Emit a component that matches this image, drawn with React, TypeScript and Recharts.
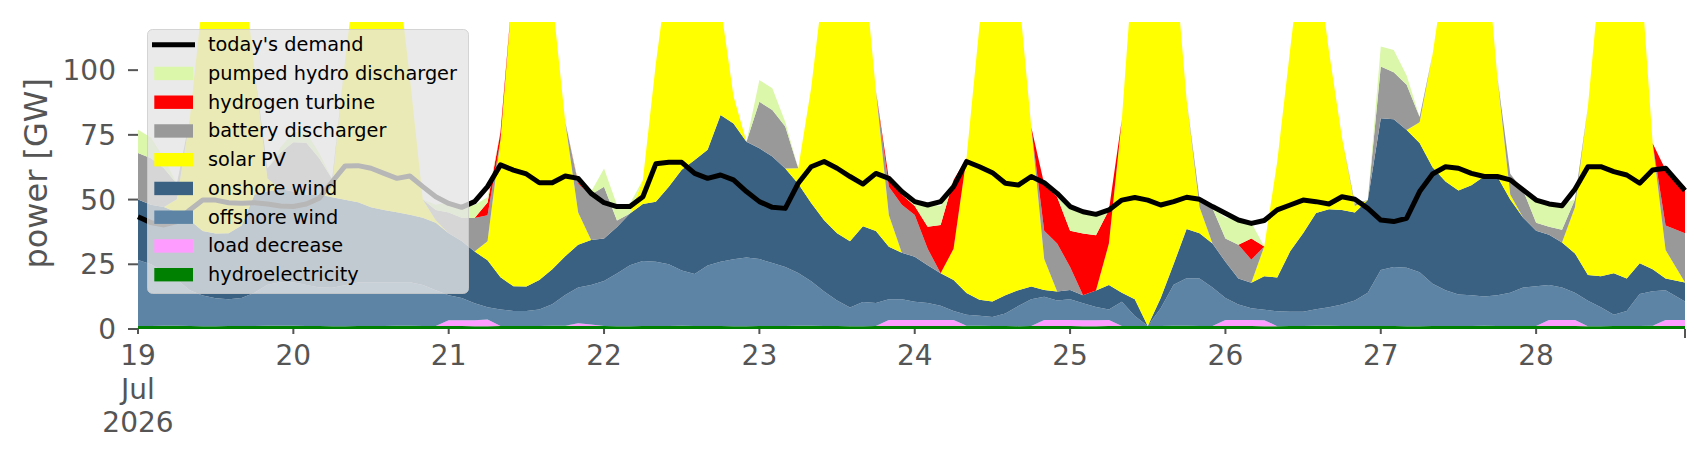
import React from 'react';
import { ComposedChart, Area, Line, XAxis, YAxis, Legend } from 'recharts';

// time axis: hours since 19 Jul 2026 00:00 (2-hourly samples, last one 28 Jul 23:00)
const hours: number[] = [];
for (let h = 0; h <= 236; h += 2) hours.push(h);
hours.push(239);

const dayTicks = [0, 24, 48, 72, 96, 120, 144, 168, 192, 216, 239];
const dayTickLabels: string[][] = [
  ['19', 'Jul', '2026'], ['20'], ['21'], ['22'], ['23'], ['24'], ['25'], ['26'], ['27'], ['28'], [],
];
const yTicks = [0, 25, 50, 75, 100];

const hydroelectricity = [
  1.2, 1.2, 1.3, 1.3, 1.2, 1.1, 1.1, 1.2, 1.2, 1.2, 1.3, 1.3,
  1.3, 1.2, 1.2, 1.1, 1.1, 1.2, 1.2, 1.2, 1.3, 1.3, 1.2, 1.2,
  1.2, 1.2, 1.1, 1.1, 1.2, 1.2, 1.2, 1.2, 1.3, 1.3, 1.2, 1.2,
  1.2, 1.1, 1.1, 1.2, 1.2, 1.2, 1.3, 1.2, 1.2, 1.2, 1.1, 1.1,
  1.2, 1.2, 1.2, 1.3, 1.3, 1.2, 1.2, 1.1, 1.1, 1.2, 1.2, 1.2,
  1.2, 1.2, 1.2, 1.2, 1.3, 1.3, 1.2, 1.2, 1.1, 1.2, 1.2, 1.2,
  1.2, 1.1, 1.1, 1.2, 1.2, 1.2, 1.2, 1.2, 1.3, 1.3, 1.2, 1.2,
  1.2, 1.2, 1.2, 1.1, 1.1, 1.2, 1.2, 1.3, 1.3, 1.2, 1.2, 1.2,
  1.2, 1.2, 1.1, 1.1, 1.2, 1.2, 1.2, 1.2, 1.3, 1.2, 1.2, 1.2,
  1.2, 1.2, 1.2, 1.2, 1.1, 1.1, 1.2, 1.2, 1.2, 1.3, 1.2, 1.2,
];
const loadDecrease = [
  0, 0, 0, 0, 0, 0, 0, 0, 0, 0, 0, 0,
  0, 0, 0, 0, 0, 0, 0, 0, 0, 0, 0, 0,
  2.2, 2.2, 2.3, 2.6, 0, 0, 0, 0, 0, 0, 1.0, 0.5,
  0, 0, 0, 0, 0, 0, 0, 0, 0, 0, 0, 0,
  0, 0, 0, 0, 0, 0, 0, 0, 0, 0, 2.3, 2.3,
  2.3, 2.3, 2.3, 2.3, 0, 0, 0, 0, 0, 0, 2.3, 2.3,
  2.3, 2.3, 2.3, 2.3, 0, 0, 0, 0, 0, 0, 0, 0,
  2.3, 2.3, 2.3, 2.3, 0, 0, 0, 0, 0, 0, 0, 0,
  0, 0, 0, 0, 0, 0, 0, 0, 0, 0, 0, 0,
  0, 2.3, 2.3, 2.3, 0, 0, 0, 0, 0, 0, 2.3, 2.3,
];
const offshoreWind = [
  25.5, 23.8, 20.8, 17.8, 13.8, 11.8, 10.8, 10.3, 10.8, 12.8, 15.8, 16.8,
  16.8, 15.8, 14.8, 14.8, 15.8, 16.8, 16.8, 16.8, 16.8, 16.8, 15.8, 13.8,
  9.6, 8.6, 6.5, 4.7, 6.3, 5.8, 5.8, 6.3, 8.3, 11.8, 13.8, 15.3,
  17.3, 20.3, 23.5, 25.1, 24.8, 23.8, 21.3, 20, 23.3, 24.8, 25.8, 26.5,
  25.8, 24.3, 22.8, 20.3, 17.1, 13.3, 9.8, 7.2, 9.3, 8.8, 8, 8,
  7, 6.5, 5.5, 3.5, 4.2, 3.8, 3.4, 4.8, 7.8, 10.3, 9, 7.5,
  8, 6.5, 5.1, 4, 9.3, 3.8, 0, 6.8, 15.8, 18.3, 18.3, 14.8,
  8.5, 6, 4.5, 4, 5.8, 5.5, 5.5, 6.3, 7.1, 8.3, 9.8, 12.8,
  21.6, 22.8, 22.6, 20.8, 16.3, 13.8, 12.1, 11.8, 11.3, 11.8, 12.8, 14.8,
  15.3, 13.5, 12.5, 10.5, 9.8, 7.3, 4.3, 5.8, 12.3, 13.3, 11.5, 7.1,
];
const onshoreWind = [
  23.3, 23, 25, 26, 27, 25, 25, 25.5, 28, 38, 36, 36,
  35, 35, 36, 35, 33, 31, 29, 28, 27, 26, 26, 26,
  24, 22, 20, 18.2, 12.5, 9.5, 9.4, 11.4, 13.5, 15, 16.5, 17.4,
  16.5, 18, 20, 22, 23.2, 30, 38.9, 44.1, 44.7, 56.7, 52.5, 44.7,
  42.8, 41.1, 38, 34.5, 30.3, 27.5, 26, 25.6, 29.3, 27.9, 20.3, 18,
  17.4, 14.6, 12.5, 11.9, 8.4, 6.2, 6, 7, 6.1, 4.9, 2.6, 3.5,
  3.6, 3.1, 6.4, 9.5, 3.5, 6.5, 0, 4, 8, 19, 17.5, 17,
  14, 10, 9.9, 13, 13, 23.3, 30.3, 37.2, 37.9, 36.5, 34, 35.8,
  58.6, 57, 53.2, 50, 45, 42, 40.2, 42.5, 46.4, 45.9, 36, 27,
  21.5, 19.4, 17.4, 15.2, 10, 12, 16, 12.5, 11.9, 8.5, 4.5, 7.4,
];
const solarPV = [
  0, 0, 0, 5, 39, 90, 128, 133, 105, 48, 5, 0,
  0, 0, 0, 5, 54, 96, 123, 119, 95, 53, 7, 1,
  0, 0, 0, 7.3, 53, 118.5, 148.6, 151, 105, 52, 12.5, 0,
  0, 0, 0, 9.3, 53.3, 85, 98.6, 99.7, 85.8, 42.3, 10.5, 0,
  0, 0, 0, 6, 44.4, 93, 128, 136, 105.2, 54.1, 12.2, 0,
  0, 0, 0, 12.1, 52.2, 105.8, 149.4, 152, 116.9, 61.6, 11.9, 0,
  0, 0, 0, 16, 67, 138.5, 163.8, 153, 123, 50, 10, 0,
  0, 0, 0, 11.5, 44.7, 78, 113, 100.3, 60.8, 28, 2.5, 0,
  0, 0, 0, 8, 43.5, 83, 111.5, 109.5, 96.1, 38.6, 2, 0,
  0, 0, 0, 17.8, 65, 119.5, 143.5, 145.5, 118.6, 48.7, 11, 0,
];
const batteryDischarger = [
  18, 18, 15, 6, 0, 0, 0, 0, 0, 0, 4, 14,
  19, 20, 14, 2, 0, 0, 0, 0, 0, 0, 0, 4,
  8, 9, 13, 10, 0, 0, 0, 0, 0, 0, 11, 17.6,
  20, 2.5, 0, 0, 0, 0, 0, 0, 0, 0, 0, 0,
  18, 18, 16.2, 0, 0, 0, 0, 0, 0, 0, 11, 18.5,
  16.1, 6.4, 0, 0, 0, 0, 0, 0, 0, 0, 11, 18.5,
  8.9, 0, 0, 0, 0, 0, 0, 0, 0, 0, 3, 13.6,
  9, 13, 8.9, 0, 0, 0, 0, 0, 0, 0, 1, 0,
  20, 18.2, 17.5, 2, 0, 0, 0, 0, 0, 0, 8, 10.5,
  3, 3.1, 4.9, 3, 0, 0, 0, 0, 0, 0, 9.5, 19,
];
const hydrogenTurbine = [
  0, 0, 0, 0, 0, 0, 0, 0, 0, 0, 0, 0,
  0, 0, 0, 0, 0, 0, 0, 0, 0, 0, 0, 0,
  0, 0, 0, 5, 3, 0, 0, 0, 0, 0, 0.5, 0,
  0, 0, 0, 0, 0, 0, 0, 0, 0, 0, 0, 0,
  0, 0, 0, 0, 0, 0, 0, 0, 0, 0, 3, 4,
  3.5, 8.5, 18.7, 26.6, 0, 0, 0, 0, 0, 0, 18, 18,
  14, 23.9, 21.3, 13, 0, 0, 0, 0, 0, 0, 0, 0,
  0, 0, 8.2, 0, 0, 0, 0, 0, 0, 0, 0, 0,
  0, 0, 0, 0, 0, 0, 0, 0, 0, 0, 0, 0,
  0, 0, 0, 0, 0, 0, 0, 0, 0, 0, 21.5, 18,
];
const pumpedHydroDischarger = [
  9, 8, 4, 0, 0, 0, 0, 0, 0, 0, 0, 2,
  4, 4, 2, 0, 0, 0, 0, 0, 0, 0, 0, 2,
  4, 5, 5, 2, 0, 0, 0, 0, 0, 0, 0.5, 1,
  7, 6, 3.9, 0, 0, 0, 0, 0, 0, 0, 0, 0,
  8.4, 8.4, 1.8, 0, 0, 0, 0, 0, 0, 0, 0, 0,
  1.7, 9, 7.3, 0, 0, 0, 0, 0, 0, 0, 0, 0,
  8.6, 7.7, 7.4, 0, 0, 0, 0, 0, 0, 0, 0, 0,
  8.1, 9.9, 6, 0, 0, 0, 0, 0, 0, 0, 0, 0,
  7.7, 8.6, 3.5, 0, 0, 0, 0, 0, 0, 0, 0, 0,
  8, 9.7, 10, 0, 0, 0, 0, 0, 0, 0, 0, 0,
];
const todaysDemand = [
  43.4, 41.1, 40.2, 41.5, 46, 49.8, 49.8, 48.8, 48.6, 48.8, 48.3, 47.5,
  47.3, 48.3, 50.5, 56.9, 63, 63.1, 62.1, 60.1, 58.2, 59.1, 55, 51.1,
  48.5, 47, 49.2, 55, 63.4, 61.4, 59.9, 56.5, 56.5, 59.1, 58.2, 52.4,
  48.8, 47.3, 47.3, 51.1, 63.8, 64.4, 64.4, 60.1, 58.2, 59.5, 57.6, 53.1,
  49.2, 47, 46.6, 56.3, 62.7, 64.7, 62.1, 58.9, 56, 60.1, 58.2, 53.1,
  49.2, 47.9, 49.2, 55, 64.7, 62.7, 60.4, 56.3, 55.6, 58.9, 56.5, 52.4,
  47.3, 45.3, 44.3, 46, 49.8, 50.8, 49.8, 47.9, 49.2, 50.9, 50.1, 47.3,
  44.7, 42.1, 40.8, 41.9, 46, 47.9, 49.8, 49.2, 48.3, 51.1, 50.1, 46.6,
  42.1, 41.5, 42.8, 53.1, 59.9, 62.7, 62.1, 60.1, 58.9, 58.9, 57.6, 53.7,
  49.8, 48.3, 47.6, 54, 62.7, 62.7, 60.8, 59.5, 56.3, 61.4, 62.1, 53.5,
];

const series = [
  { key: 'hydro', name: 'hydroelectricity', color: '#008000', values: hydroelectricity },
  { key: 'load', name: 'load decrease', color: '#ff9cff', values: loadDecrease },
  { key: 'offshore', name: 'offshore wind', color: '#5d84a5', values: offshoreWind },
  { key: 'onshore', name: 'onshore wind', color: '#3b6182', values: onshoreWind },
  { key: 'solar', name: 'solar PV', color: '#ffff00', values: solarPV },
  { key: 'battery', name: 'battery discharger', color: '#999999', values: batteryDischarger },
  { key: 'hydrogen', name: 'hydrogen turbine', color: '#ff0000', values: hydrogenTurbine },
  { key: 'pumped', name: 'pumped hydro discharger', color: '#dbf7a9', values: pumpedHydroDischarger },
];

const data = hours.map((t, i) => {
  const row: Record<string, number> = { t, demand: todaysDemand[i] };
  series.forEach((s) => {
    row[s.key] = s.values[i];
  });
  return row;
});

const FONT = 'DejaVu Sans';
const TICK_COLOR = '#555555';

const XTick = (props: any) => {
  const { x, y, payload } = props;
  const idx = dayTicks.indexOf(payload.value);
  const lines = idx >= 0 ? dayTickLabels[idx] : [];
  const isEnd = lines.length === 0;
  return (
    <g>
      <line x1={x} x2={x} y1={y} y2={y + (isEnd ? 9 : 5)} stroke={TICK_COLOR} strokeWidth={2} />
      {lines.length > 0 && (
        <text x={x} y={y + 36} textAnchor="middle" fill={TICK_COLOR} fontSize={28} fontFamily={FONT}>
          {lines.map((l, i) => (
            <tspan key={i} x={x} dy={i === 0 ? 0 : 33.5}>
              {l}
            </tspan>
          ))}
        </text>
      )}
    </g>
  );
};

const legendItems = [
  { name: "today's demand", color: '#000000', line: true },
  ...series.slice().reverse().map((s) => ({ name: s.name, color: s.color, line: false })),
];

const LegendBox = () => (
  <svg width={322} height={265} style={{ display: 'block', overflow: 'visible' }}>
    <rect
      x={0.5}
      y={0.5}
      width={321}
      height={264}
      rx={5}
      ry={5}
      fill="#e5e5e5"
      fillOpacity={0.8}
      stroke="#cccccc"
      strokeOpacity={0.8}
      strokeWidth={1}
    />
    {legendItems.map((it, i) => {
      const cy = 15.7 + i * 28.75;
      return (
        <g key={it.name}>
          {it.line ? (
            <line x1={5} x2={48} y1={cy} y2={cy} stroke={it.color} strokeWidth={5} />
          ) : (
            <rect x={7.3} y={cy - 6.7} width={38.7} height={13.4} fill={it.color} />
          )}
          <text x={61} y={cy} dy="0.33em" fontSize={19.3} fontFamily={FONT} fill="#000000">
            {it.name}
          </text>
        </g>
      );
    })}
  </svg>
);

export default function App() {
  return (
    <div style={{ width: 1690, height: 444, fontFamily: FONT, background: '#ffffff' }}>
      <ComposedChart width={1690} height={444} data={data} margin={{ top: 14, right: 13, bottom: 13, left: 0 }}>
        <XAxis
          dataKey="t"
          type="number"
          domain={[0, 239]}
          ticks={dayTicks}
          interval={0}
          tick={<XTick />}
          tickLine={false}
          axisLine={false}
          tickSize={0}
          tickMargin={0}
          height={110}
        />
        <YAxis
          type="number"
          domain={[0, 118.6]}
          allowDataOverflow
          ticks={yTicks}
          width={130}
          axisLine={false}
          tickSize={10}
          tickMargin={12}
          tickLine={{ stroke: TICK_COLOR, strokeWidth: 2 }}
          tick={{ fill: TICK_COLOR, fontSize: 28, fontFamily: FONT }}
          label={{
            value: 'power [GW]',
            angle: -90,
            position: 'center',
            dx: -37.7,
            dy: -2.2,
            fill: TICK_COLOR,
            fontSize: 32,
            fontFamily: FONT,
          }}
        />
        {series.map((s) => (
          <Area
            key={s.key}
            type="linear"
            dataKey={s.key}
            name={s.name}
            stackId="supply"
            stroke="none"
            fill={s.color}
            fillOpacity={1}
            dot={false}
            activeDot={false}
            isAnimationActive={false}
          />
        ))}
        <Line
          type="linear"
          dataKey="demand"
          name="today's demand"
          stroke="#000000"
          strokeWidth={5}
          strokeLinejoin="round"
          dot={false}
          activeDot={false}
          isAnimationActive={false}
        />
        <Legend
          layout="vertical"
          align="center"
          verticalAlign="middle"
          content={() => <LegendBox />}
          wrapperStyle={{ left: 138.7, top: 21.3, width: 322, height: 265, margin: 0, padding: 0 }}
        />
      </ComposedChart>
    </div>
  );
}
